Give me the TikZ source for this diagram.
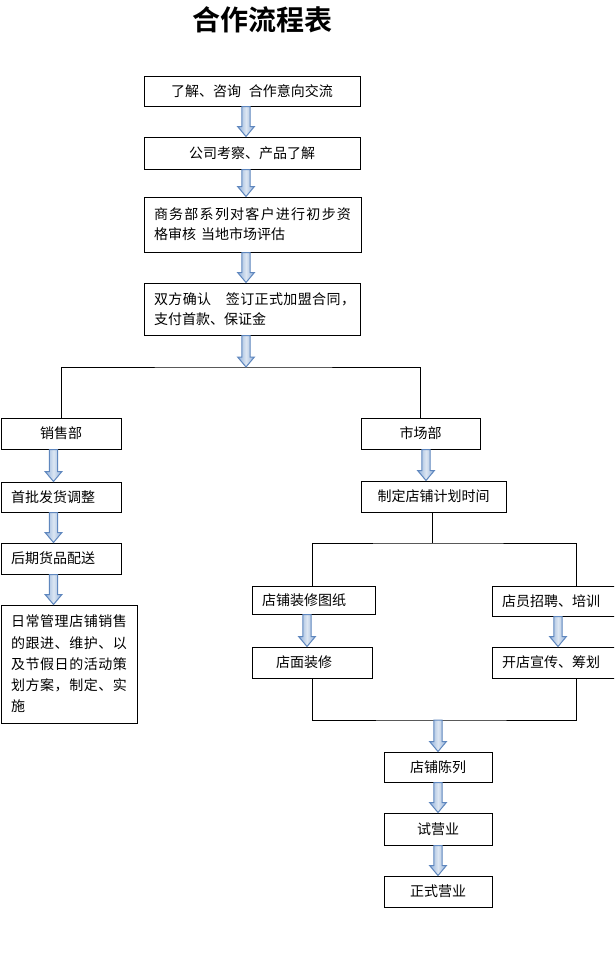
\documentclass[tikz,border=0pt]{standalone}
\usepackage{fontspec}
\setmainfont{Noto Sans CJK SC}[BoldFont={Noto Sans CJK SC Bold}]
\usetikzlibrary{calc}
\definecolor{arrline}{HTML}{5F87BE}
\definecolor{arrdark}{HTML}{8FAFDA}
\definecolor{arrlight}{HTML}{DCE6F2}
\def\sprA#1{#1\sprB}
\def\sprB#1{\ifx\relax#1\else\hfil#1\expandafter\sprB\fi}
\newcommand\spread[2]{\leavevmode\hbox to #1{\sprA#2\relax}}
\newcommand\barr[3]{% #1 start anchor, #2 end anchor, #3 x shift
  \coordinate (as) at ($(#1)+(#3,0)$);
  \coordinate (ae) at (as |- #2);
  \draw[barrowstyle] ($(as)+(-4.2,0)$) -- ($(as)+(4.2,0)$) -- ($(ae)+(4.2,-10)$)
    -- ($(ae)+(8.4,-10)$) -- (ae) -- ($(ae)+(-8.4,-10)$) -- ($(ae)+(-4.2,-10)$) -- cycle;}
\tikzset{
  box/.style={draw, line width=1pt, inner sep=0pt, align=center,
    font=\fontsize{14}{20}\selectfont},
  lbox/.style={box, align=left, inner xsep=10pt},
  conn/.style={line width=1pt},
  barrowstyle/.style={draw=arrline, line width=1pt, line join=miter,
    left color=arrdark, right color=arrdark, middle color=arrlight}
}
\begin{document}
\begin{tikzpicture}[x=1pt,y=-1pt]
\useasboundingbox (0,0) rectangle (614,974);
\clip (0,0) rectangle (614,974);
\fill[white] (0,0) rectangle (614,974);

\node[font=\bfseries\fontsize{28}{30}\selectfont] (title) at (262,20) {合作流程表};

\node[box, minimum width=216, minimum height=30] (b1) at (252,91) {了解、咨询\hspace{8pt}合作意向交流};
\node[box, minimum width=216, minimum height=32] (b2) at (252,153) {公司考察、产品了解};
\node[lbox, minimum width=217, minimum height=55, text width=197] (b3) at (252.5,224.5)
  {\spread{197pt}{商务部系列对客户进行初步资}\\格审核\hspace{5pt}当地市场评估};
\node[lbox, minimum width=216, minimum height=52, text width=196] (b4) at (252,309)
  {\spread{201pt}{双方确认　签订正式加盟合同，}\\支付首款、保证金};
\coordinate (split) at (246,367);

\node[box, minimum width=120, minimum height=31] (sales) at (61,433.5) {销售部};
\node[lbox, minimum width=120, minimum height=30, text width=100] (s2) at (61,497) {首批发货调整};
\node[lbox, minimum width=120, minimum height=31, text width=100] (s3) at (61,558.5) {后期货品配送};
\node[lbox, minimum width=136, minimum height=118, text width=116,
  font=\fontsize{14}{21.3}\selectfont] (s4) at (69,664)
  {\spread{116pt}{日常管理店铺销售}\\\spread{116pt}{的跟进、维护、以}\\\spread{116pt}{及节假日的活动策}\\\spread{116pt}{划方案，制定、实}\\施};

\node[box, minimum width=119, minimum height=31] (market) at (420.5,433.5) {市场部};
\node[box, minimum width=145, minimum height=31] (m2) at (433.5,496.5) {制定店铺计划时间};
\coordinate (split2) at (432,543);

\node[lbox, minimum width=123, minimum height=28, text width=103] (l1) at (313.5,600) {店铺装修图纸};
\node[lbox, minimum width=120, minimum height=31, text width=72, inner xsep=24pt] (l2) at (312,662.5) {店面装修};
\node[lbox, minimum width=124, minimum height=30, text width=104] (r1) at (554,601) {店员招聘、培训};
\node[lbox, minimum width=124, minimum height=31, text width=104] (r2) at (554,662.5) {开店宣传、筹划};
\coordinate (join) at (438,720);

\node[box, minimum width=108, minimum height=30] (f1) at (438,767) {店铺陈列};
\node[box, minimum width=108, minimum height=32] (f2) at (438,829) {试营业};
\node[box, minimum width=108, minimum height=31] (f3) at (438,891.5) {正式营业};

% connector lines
\draw[conn] (sales.north) |- (split) -| (market.north);
\draw[conn] ([xshift=-1.5pt]m2.south) -- (split2);
\draw[conn] ([xshift=-1.5pt]l1.north) |- (split2) -| ([xshift=22pt]r1.north);
\draw[conn] (l2.south) |- (join) -| ([xshift=22pt]r2.south);

% block arrows
\barr{b1.south}{b2.north}{-6}
\barr{b2.south}{b3.north}{-6}
\barr{b3.south}{b4.north}{-6.5}
\barr{b4.south}{split}{-6}
\barr{sales.south}{s2.north}{-7.5}
\barr{s2.south}{s3.north}{-7.5}
\barr{s3.south}{s4.north}{-7.5}
\barr{market.south}{m2.north}{5.5}
\barr{l1.south}{l2.north}{-6.5}
\barr{r1.south}{r2.north}{4}
\barr{join}{f1.north}{0}
\barr{f1.south}{f2.north}{0}
\barr{f2.south}{f3.north}{0}
\end{tikzpicture}
\end{document}
